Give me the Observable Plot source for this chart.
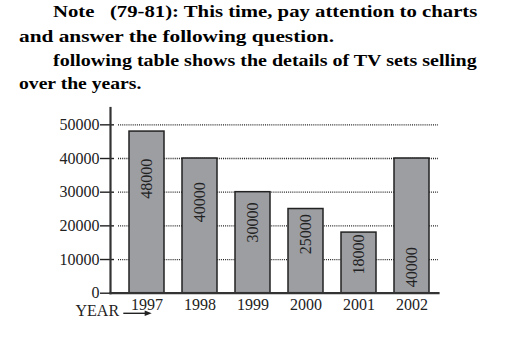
<!DOCTYPE html>
<html>
<head>
<meta charset="utf-8">
<script src="https://cdn.jsdelivr.net/npm/d3@7"></script>
<script src="https://cdn.jsdelivr.net/npm/@observablehq/plot@0.6"></script>
<style>
  html, body { margin: 0; padding: 0; background: #fff; width: 529px; height: 360px; overflow: hidden; }
  .ln { position: absolute; font-family: "Liberation Serif", "Times New Roman", serif; font-weight: bold;
        font-size: 16px; line-height: 1; white-space: nowrap; color: #000; transform-origin: left top; }
  #chart { position: absolute; left: 0; top: 100px; }
  #chart svg, #chart svg text { font-family: "Liberation Serif", "Times New Roman", serif !important; }
</style>
</head>
<body>
<div class="ln" id="l1" style="left:52.7px; top:3.9px;">Note&nbsp;&nbsp; (79-81): This time, pay attention to charts</div>
<div class="ln" id="l2" style="left:19.3px; top:29.3px;">and answer the following question.</div>
<div class="ln" id="l3" style="left:53.3px; top:53.3px;">following table shows the details of TV sets selling</div>
<div class="ln" id="l4" style="left:19.3px; top:75.9px;">over the years.</div>
<div id="chart"></div>
<script>
const years = ["1997", "1998", "1999", "2000", "2001", "2002"];
const sales = [48000, 40000, 30000, 25000, 18000, 40000];
const labelAt = [34000, 27000, 21000, 17500, 11500, 7700];
const yTicks = [0, 10000, 20000, 30000, 40000, 50000];
const gridLines = [10000, 20000, 30000, 40000, 50000];

// fit each heading line to the width it spans in the reference
const lineWidths = {l1: 424.3, l2: 315, l3: 423.7, l4: 122.4};
for (const [id, w] of Object.entries(lineWidths)) {
  const el = document.getElementById(id);
  const nat = el.getBoundingClientRect().width;
  el.style.transform = `scaleX(${w / nat})`;
}

const data = years.map((y, i) => ({year: y, value: sales[i], labelAt: labelAt[i]}));

const font = '"Liberation Serif", "Times New Roman", serif';

function yearArrow(index, scales, values, dims) {
  const g = d3.create("svg:g");
  const x0 = dims.marginLeft + 13.3;
  const x1 = dims.marginLeft + 41.7;
  const y0 = dims.height - dims.marginBottom + 20.6;
  g.append("line").attr("x1", x0).attr("x2", x1 - 5).attr("y1", y0).attr("y2", y0)
    .attr("stroke", "#222").attr("stroke-width", 1.4);
  g.append("path").attr("d", `M${x1},${y0} L${x1 - 7},${y0 - 2.8} L${x1 - 7},${y0 + 2.8} Z`).attr("fill", "#222");
  return g.node();
}

const chart = Plot.plot({
  width: 529,
  height: 260,
  marginTop: 7.5,
  marginBottom: 67.3,
  marginLeft: 110,
  marginRight: 91,
  style: {fontFamily: font, background: "transparent", color: "#222"},
  x: {domain: years, paddingInner: 0.346, paddingOuter: 0.2385, align: 0.655, label: null},
  y: {domain: [0, 55000], label: null},
  marks: [
    Plot.ruleY(gridLines, {stroke: "#222", strokeWidth: 1.3, strokeDasharray: "1,1.1", insetLeft: 8}),
    Plot.barY(data, {x: "year", y: "value", fill: "#9c9ea2", stroke: "#222", strokeWidth: 1.5}),
    Plot.text(data, {x: "year", y: "labelAt", text: d => String(d.value), rotate: -90, fontSize: 16, fontFamily: font, fill: "#222"}),
    Plot.axisY({ticks: yTicks, tickFormat: d3.format("d"), tickSize: 14, tickPadding: 1, dx: 4, fontSize: 16, fontFamily: font, strokeWidth: 1.4, label: null}),
    Plot.axisX({tickSize: 0, tickPadding: 5, fontSize: 16, fontFamily: font, label: null}),
    Plot.frame({anchor: "left", stroke: "#333", strokeWidth: 2.2}),
    Plot.frame({anchor: "bottom", stroke: "#333", strokeWidth: 2.2}),
    Plot.text(["YEAR"], {frameAnchor: "bottom-left", textAnchor: "start", lineAnchor: "middle", dx: -35, dy: 17.8, fontSize: 16, fontFamily: font, fill: "#222"}),
    yearArrow
  ]
});
document.getElementById("chart").appendChild(chart);
</script>
</body>
</html>
